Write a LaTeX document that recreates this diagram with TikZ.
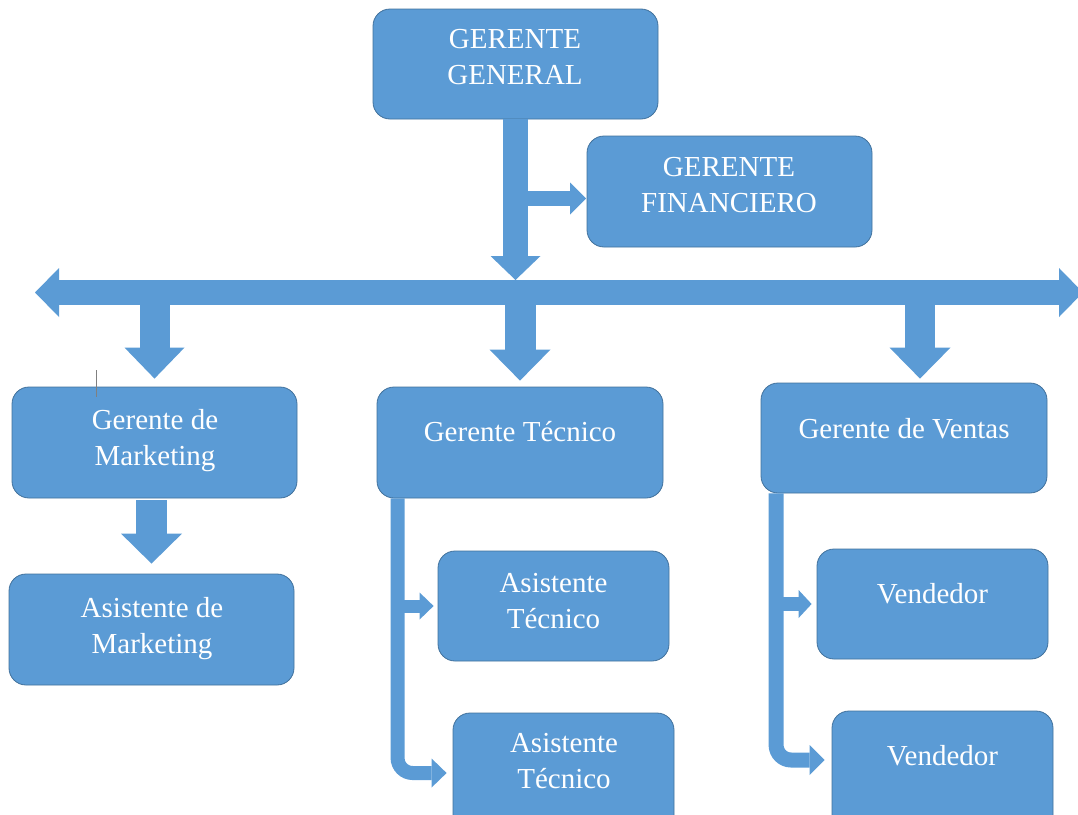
\documentclass[tikz,border=0pt]{standalone}
\usepackage{fontspec}
\setmainfont{Liberation Serif}
\usetikzlibrary{arrows.meta,calc}
\definecolor{boxblue}{HTML}{5B9BD5}
\definecolor{boxedge}{HTML}{41719C}
\begin{document}
\begin{tikzpicture}[x=1pt,y=-1pt,
  box/.style={draw=boxedge, fill=boxblue, line width=0.8pt, rounded corners=17pt, inner sep=0pt},
  lbl/.style={text=white, inner sep=0pt, align=center, font=\fontsize{29}{36}\selectfont},
  blkarrow/.style n args={3}{draw=boxblue, line width=#1, -{Triangle[width=#2,length=#3,line width=0pt]}}
]
\useasboundingbox (0,0) rectangle (1078,814);
\clip (0,0) rectangle (1078,814);

% boxes
\node[box, minimum width=285pt, minimum height=110pt] (gg) at (515.5,64) {};
\node[box, minimum width=285pt, minimum height=111pt] (gf) at (729.5,191.5) {};
\node[box, minimum width=285pt, minimum height=111pt] (gm) at (154.5,442.5) {};
\node[box, minimum width=286pt, minimum height=111pt] (gt) at (520,442.5) {};
\node[box, minimum width=286pt, minimum height=110pt] (gv) at (904,438) {};
\node[box, minimum width=285pt, minimum height=111pt] (am) at (151.5,629.5) {};
\node[box, minimum width=231pt, minimum height=110pt] (at1) at (553.5,606) {};
\node[box, minimum width=221pt, minimum height=120pt] (at2) at (563.5,773) {};
\node[box, minimum width=231pt, minimum height=110pt] (v1) at (932.5,604) {};
\node[box, minimum width=221pt, minimum height=130pt] (v2) at (942.5,776) {};

% labels
\node[lbl, anchor=north] (gg-t) at (515,29) {GERENTE\\GENERAL};
\node[lbl, anchor=north] (gf-t) at (729,157) {GERENTE\\FINANCIERO};
\node[lbl, anchor=north] (gm-t) at (155,409) {Gerente de\\Marketing};
\node[lbl, anchor=base] (gt-t) at (520,441) {Gerente Técnico};
\node[lbl, anchor=base] (gv-t) at (904,438) {Gerente de Ventas};
\node[lbl, anchor=north] (am-t) at (152,597.5) {Asistente de\\Marketing};
\node[lbl, anchor=north] (at1-t) at (553.5,573) {Asistente\\Técnico};
\node[lbl, anchor=north] (at2-t) at (564,733) {Asistente\\Técnico};
\node[lbl, anchor=base] (v1-t) at (932.5,603) {Vendedor};
\node[lbl, anchor=base] (v2-t) at (942.5,765) {Vendedor};

% helper coordinates
\coordinate (barL) at (35,292.5);
\coordinate (barR) at (1083,292.5);
\coordinate (gfa) at ($(gf.west)+(0,7)$);
\coordinate (gva) at ($(gv.north)+(16,0)$);
\coordinate (gtb) at ($(gt.south west)+(21,0)$);
\coordinate (gvb) at ($(gv.south west)+(15.5,0)$);
\coordinate (v2a) at ($(v2.west)+(0,-16)$);

% horizontal bar
\draw[draw=boxblue, line width=25pt,
  {Triangle[width=49pt,length=24pt,line width=0pt]}-{Triangle[width=49pt,length=24pt,line width=0pt]}]
  (barL) -- (barR);

% general manager arrows
\draw[blkarrow={25pt}{50pt}{24pt}, shorten >=12.5pt] (gg.south) -- (gg.south |- barL);
\draw[blkarrow={15pt}{32pt}{16pt}, shorten >=0.5pt] (gg.south |- gfa) -- (gfa);

% bar down arrows
\draw[blkarrow={30pt}{60pt}{31pt}, shorten >=8pt] (gm.north |- barL) -- (gm.north);
\draw[blkarrow={31pt}{61pt}{31pt}, shorten >=6pt] (gt.north |- barL) -- (gt.north);
\draw[blkarrow={30pt}{61pt}{31pt}, shorten >=4pt] (gva |- barL) -- (gva);

% marketing
\draw[blkarrow={31pt}{61pt}{30pt}, shorten <=2pt, shorten >=10pt] (am.north |- gm.south) -- (am.north);

% tecnico
\draw[blkarrow={14pt}{29pt}{15pt}, rounded corners=15pt, shorten >=6pt] (gtb) |- (at2.west);
\draw[blkarrow={13pt}{27pt}{14pt}, shorten >=4pt] (gtb |- at1.west) -- (at1.west);

% ventas
\draw[blkarrow={15pt}{30pt}{15pt}, rounded corners=15pt, shorten >=7pt] (gvb) |- (v2a);
\draw[blkarrow={14pt}{28pt}{13pt}, shorten >=5pt] (gvb |- v1.west) -- (v1.west);

% text cursor mark
\draw[gray, line width=1pt] (96,370) -- (96,397);
\end{tikzpicture}
\end{document}
